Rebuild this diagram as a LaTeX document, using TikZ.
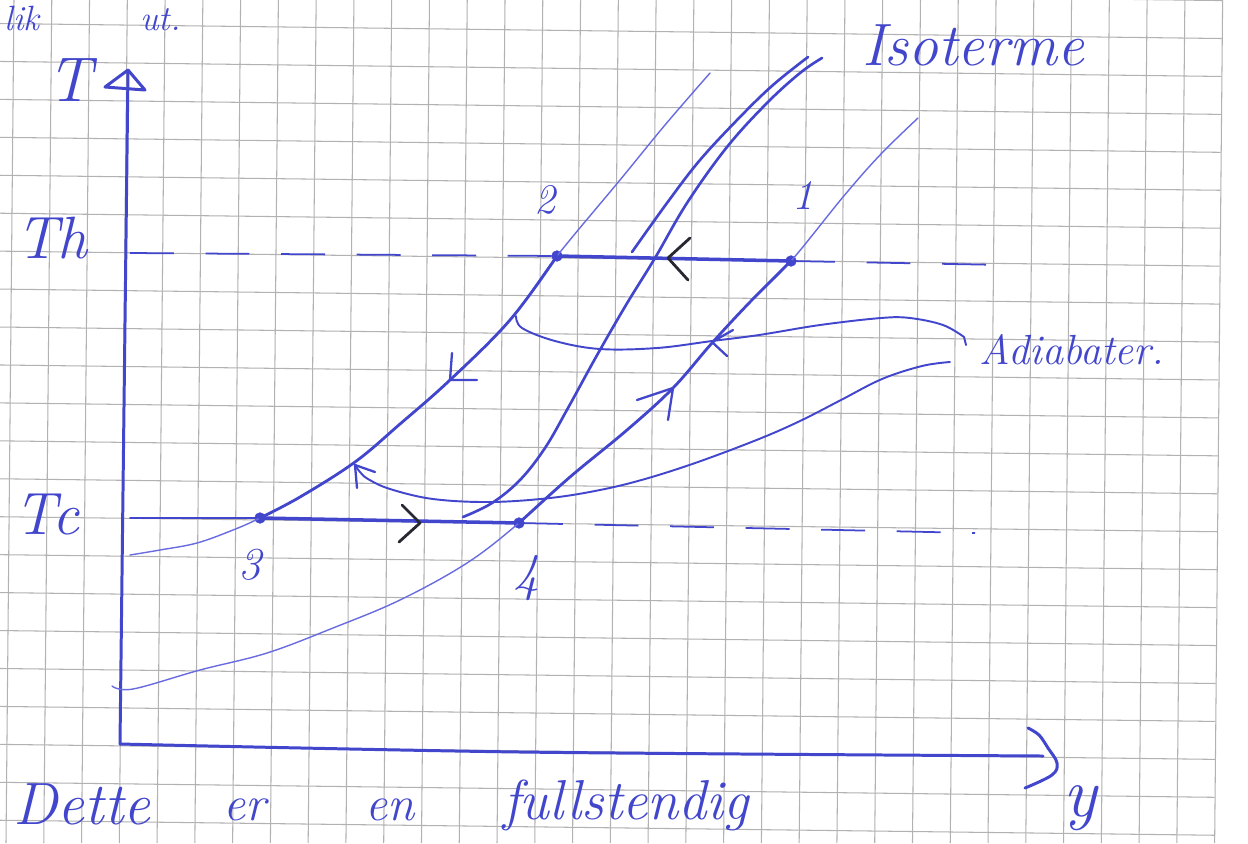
\documentclass[tikz,border=0pt]{standalone}
\usepackage{fontspec}
\definecolor{ink}{RGB}{66,70,204}
\definecolor{inkthin}{RGB}{104,108,224}
\definecolor{dark}{RGB}{40,40,50}
\definecolor{gridc}{RGB}{178,178,178}
\tikzset{
  gridline/.style={draw=gridc, line width=0.6pt},
  thinline/.style={draw=inkthin, line width=0.8pt, line cap=round},
  boldline/.style={draw=ink, line width=1.6pt, line cap=round},
  procline/.style={draw=ink, line width=2pt, line cap=round},
  isoline/.style={draw=ink, line width=1.5pt, line cap=round},
  pointer/.style={draw=ink, line width=1.1pt, line cap=round},
  axisline/.style={draw=ink, line width=1.7pt, line cap=round, line join=round},
  dashline/.style={draw=ink, line width=1pt, dash pattern=on 25pt off 18pt},
  hand/.style={text=ink, font=\itshape, inner sep=0pt},
  darktip/.style={draw=dark, line width=1.6pt, line cap=round, line join=round},
  inktip/.style={draw=ink, line width=1.3pt, line cap=round, line join=round},
  dotmark/.style={circle, fill=ink, draw=ink, minimum size=6pt, inner sep=0pt},
}
\begin{document}
\begin{tikzpicture}[x=0.02cm, y=-0.02cm]
\useasboundingbox (0,0) rectangle (1248,843);
\fill[white] (0,0) rectangle (1248,843);
\clip (0,0) rectangle (1248,843);
% grid paper
\foreach \k in {0,...,32} {
  \draw[gridline] ({14+37.77*\k},0) -- ({14+37.77*\k-8},843);
}
\foreach \j in {-1,...,21} {
  \draw[gridline] (0,{23.5+37.94*\j}) -- ({1222-8*(23.5+37.94*\j)/843},{23.5+37.94*\j+15});
}
% top text
\node[hand, anchor=base west, font=\fontsize{20}{24}\selectfont\itshape] (topa) at (4,30) {lik};
\node[hand, anchor=base west, font=\fontsize{20}{24}\selectfont\itshape] (topb) at (140,30) {ut.};
% axes
\coordinate (Ttop) at (128,70);
\coordinate (O) at (120,744);
\coordinate (Vend) at (1043,756);
\draw[axisline] (Ttop) -- (145,90) -- (105,87) -- cycle;
\draw[axisline] (Ttop) -- (O);
\draw[axisline] plot[smooth] coordinates {(O) (520,752) (Vend)};
\draw[axisline] plot[smooth, tension=0.6] coordinates {(1028,728) (1039,735) (1048,748) (1057,763) (1052,775) (1025,788)};
\node[hand, font=\fontsize{40}{44}\selectfont\itshape] (ylab) at (1080,808) {y};
\node[hand, font=\fontsize{36}{40}\selectfont\itshape] (Tlab) at (70,80) {T};
\node[hand, font=\fontsize{34}{40}\selectfont\itshape] (Thlab) at (52,238) {Th};
\node[hand, font=\fontsize{34}{40}\selectfont\itshape] (Tclab) at (47,515) {Tc};
% state points
\node[dotmark] (p2) at (557,256) {};
\node[dotmark] (p1) at (791,261) {};
\node[dotmark] (p3) at (260,518) {};
\node[dotmark] (p4) at (519,523) {};
\node[hand, font=\fontsize{24}{28}\selectfont\itshape] (l2) at (545,200) {2};
\node[hand, font=\fontsize{24}{28}\selectfont\itshape] (l1) at (803,195) {1};
\node[hand, font=\fontsize{26}{30}\selectfont\itshape] (l3) at (250,565) {3};
\node[hand, font=\fontsize{30}{34}\selectfont\itshape] (l4) at (527,578) {4};
% dashed level lines
\coordinate (ThL) at (130,253);
\coordinate (ThR) at (1005,265);
\coordinate (TcL) at (130,518);
\coordinate (TcR) at (975,533);
\draw[dashline] (ThL) -- (p2.center);
\draw[dashline] (p1.center) -- (ThR);
\draw[pointer, line width=0.9pt] (TcL) -- (p3.center);
\draw[dashline] (p4.center) -- (TcR);
% process lines
\draw[procline] (p2.center) -- (p1.center);
\draw[procline] (p3.center) -- (p4.center);
\draw[darktip] (690,238) -- (668,258) -- (688,280);
\draw[darktip] (402,505) -- (420,523) -- (399,542);
% adiabat through 3 and 2
\draw[thinline] plot[smooth, tension=0.6] coordinates {(130,555) (160,550) (197,543) (233,530) (260,518) (300,497) (355,462) (400,424) (450,380) (510,320) (557,256) (620,180) (665,125) (710,73)};
\draw[boldline] plot[smooth, tension=0.6] coordinates {(p3.center) (300,497) (355,462) (400,424) (450,380) (510,320) (p2.center)};
\draw[inktip] (452,353) -- (450,380) -- (477,380);
% adiabat through 4 and 1
\draw[thinline] plot[smooth, tension=0.6] coordinates {(112,686) (133,689) (200,670) (267,653) (333,628) (400,600) (467,563) (519,523) (570,477) (627,430) (673,388) (712,343) (750,302) (791,261) (843,197) (880,155) (918,118)};
\draw[boldline] plot[smooth, tension=0.6] coordinates {(p4.center) (570,477) (627,430) (673,388) (712,343) (750,302) (p1.center)};
\draw[inktip] (637,400) -- (673,388) -- (668,420);
% isotherms
\draw[isoline] plot[smooth, tension=0.6] coordinates {(632,252) (667,203) (700,160) (740,117) (773,85) (808,57)};
\draw[isoline] plot[smooth, tension=0.6] coordinates {(463,517) (492,503) (520,480) (545,448) (568,408) (596,357) (626,305) (655,258) (687,203) (727,147) (767,103) (800,73) (822,58)};
\node[hand, font=\fontsize{34}{40}\selectfont\itshape] (iso) at (973,45) {Isoterme};
% adiabat labels and pointers
\node[hand, font=\fontsize{24}{28}\selectfont\itshape] (adi) at (1072,350) {Adiabater.};
\draw[pointer] plot[smooth, tension=0.6] coordinates {(516,316) (522,328) (555,341) (600,349) (657,348) (712,341) (759,335) (820,325) (881,318) (910,318) (943,325) (964,337)};
\draw[pointer] (964,337) -- (966,345);
\draw[inktip] (733,330) -- (712,342) -- (727,356);
\draw[pointer] plot[smooth, tension=0.6] coordinates {(950,362) (922,366) (882,379) (841,400) (800,421) (759,439) (698,462) (645,479) (600,490) (550,498) (490,502) (433,499) (390,489) (368,479) (360,472) (355,465)};
\draw[inktip] (375,472) -- (355,465) -- (357,488);
% bottom text
\node[hand, font=\fontsize{34}{38}\selectfont\itshape] (w1) at (82,804) {Dette};
\node[hand, font=\fontsize{28}{32}\selectfont\itshape] (w2) at (245,810) {er};
\node[hand, font=\fontsize{28}{32}\selectfont\itshape] (w3) at (390,810) {en};
\node[hand, font=\fontsize{32}{36}\selectfont\itshape] (w4) at (626,805) {fullstendig};
\end{tikzpicture}
\end{document}
